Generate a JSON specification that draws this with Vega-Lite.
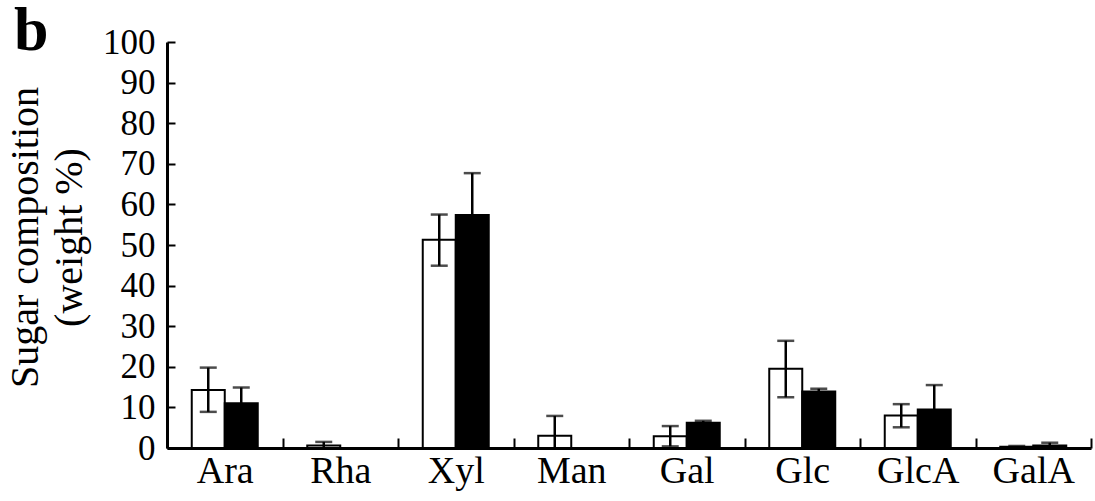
{
  "$schema": "https://vega.github.io/schema/vega-lite/v6.json",
  "width": 924,
  "height": 406,
  "autosize": {"type": "none"},
  "padding": {"left": 167, "top": 42, "right": 4, "bottom": 53},
  "background": "white",
  "config": {"view": {"stroke": null}, "font": "Liberation Serif"},
  "title": {"text": "b", "anchor": "start", "frame": "group", "fontSize": 62, "fontWeight": "bold", "font": "Liberation Serif", "color": "black", "dx": -153, "baseline": "top", "offset": 0, "dy": 38},
  "data": {"values": [
    {"sugar": "Ara", "series": "W", "value": 14.3, "hi": 19.8, "lo": 8.9},
    {"sugar": "Ara", "series": "B", "value": 11.0, "hi": 14.9, "lo": 7.1},
    {"sugar": "Rha", "series": "W", "value": 0.6, "hi": 1.5, "lo": 0},
    {"sugar": "Rha", "series": "B", "value": 0, "hi": null, "lo": null},
    {"sugar": "Xyl", "series": "W", "value": 51.3, "hi": 57.5, "lo": 44.9},
    {"sugar": "Xyl", "series": "B", "value": 57.4, "hi": 67.7, "lo": 47.1},
    {"sugar": "Man", "series": "W", "value": 3.0, "hi": 7.9, "lo": 0},
    {"sugar": "Man", "series": "B", "value": 0, "hi": null, "lo": null},
    {"sugar": "Gal", "series": "W", "value": 2.9, "hi": 5.4, "lo": 0.4},
    {"sugar": "Gal", "series": "B", "value": 6.2, "hi": 6.7, "lo": 5.7},
    {"sugar": "Glc", "series": "W", "value": 19.5, "hi": 26.4, "lo": 12.5},
    {"sugar": "Glc", "series": "B", "value": 13.9, "hi": 14.6, "lo": 13.2},
    {"sugar": "GlcA", "series": "W", "value": 8.0, "hi": 10.8, "lo": 5.1},
    {"sugar": "GlcA", "series": "B", "value": 9.5, "hi": 15.5, "lo": 3.5},
    {"sugar": "GalA", "series": "W", "value": 0.3, "hi": 0.5, "lo": 0.1},
    {"sugar": "GalA", "series": "B", "value": 0.6, "hi": 1.3, "lo": 0}
  ]},
  "encoding": {
    "x": {
      "field": "sugar", "type": "nominal",
      "sort": ["Ara", "Rha", "Xyl", "Man", "Gal", "Glc", "GlcA", "GalA"],
      "scale": {"paddingInner": 0, "paddingOuter": 0},
      "axis": {
        "title": null, "labelAngle": 0, "labelFontSize": 38, "labelFont": "Liberation Serif",
        "labelColor": "black", "domainColor": "black", "domainWidth": 3,
        "tickColor": "black", "tickWidth": 2, "tickSize": -10, "tickBand": "extent",
        "labelPadding": 14, "grid": false
      }
    },
    "xOffset": {"field": "series", "type": "nominal", "sort": ["W", "B"], "scale": {"paddingInner": 0, "paddingOuter": 0.75}}
  },
  "layer": [
    {
      "mark": {"type": "bar", "stroke": "black", "strokeWidth": 2},
      "encoding": {
        "y": {
          "field": "value", "type": "quantitative",
          "scale": {"domain": [0, 100], "nice": false},
          "axis": {
            "title": ["Sugar composition", "(weight %)"],
            "titleFontSize": 40, "titleFontWeight": "normal", "titleFont": "Liberation Serif",
            "titleColor": "black", "titleLineHeight": 44, "titleAngle": 270,
            "titleX": -162, "titleY": 195, "titleAlign": "center", "titleBaseline": "top",
            "values": [0, 10, 20, 30, 40, 50, 60, 70, 80, 90, 100],
            "labelFontSize": 35, "labelFont": "Liberation Serif", "labelColor": "black",
            "domainColor": "black", "domainWidth": 3, "tickColor": "black", "tickWidth": 2,
            "tickSize": -8, "labelPadding": 20, "grid": false
          }
        },
        "fill": {"field": "series", "type": "nominal", "scale": {"domain": ["W", "B"], "range": ["white", "black"]}, "legend": null}
      }
    },
    {
      "transform": [{"filter": "datum.hi != null"}],
      "mark": {"type": "rule", "color": "black", "strokeWidth": 2.5},
      "encoding": {
        "y": {"field": "lo", "type": "quantitative"},
        "y2": {"field": "hi"}
      }
    },
    {
      "transform": [{"filter": "datum.hi != null"}],
      "mark": {"type": "tick", "color": "black", "size": 17, "thickness": 2.5, "orient": "horizontal"},
      "encoding": {
        "y": {"field": "hi", "type": "quantitative"}
      }
    },
    {
      "transform": [{"filter": "datum.lo != null && datum.lo > 0"}],
      "mark": {"type": "tick", "color": "black", "size": 17, "thickness": 2.5, "orient": "horizontal"},
      "encoding": {
        "y": {"field": "lo", "type": "quantitative"}
      }
    }
  ]
}
